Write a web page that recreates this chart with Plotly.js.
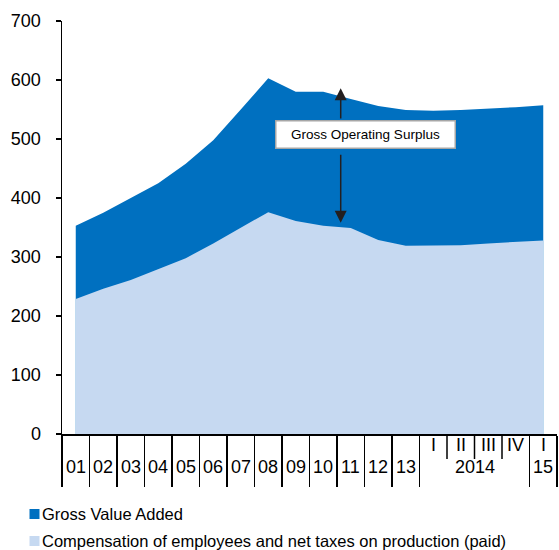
<!DOCTYPE html>
<html>
<head>
<meta charset="utf-8">
<script src="https://cdn.plot.ly/plotly-3.0.1.min.js"></script>
<style>html,body{margin:0;padding:0;background:#fff;}#chart{width:559px;height:550px;}</style>
</head>
<body>
<div id="chart"></div>
<script>
// ---- data ----
const categories = ['01','02','03','04','05','06','07','08','09','10','11','12','13',
  '2014 I','2014 II','2014 III','2014 IV','15 I'];
const grossValueAdded = [353,375,400,425,458,498,550,603,580,580,568,556,549,548,549,551,554,557];
const compensation = [229,246,261,279,298,323,350,376,361,353,349,329,319,319,320,323,325,328];
const seriesNames = ['Gross Value Added','Compensation of employees and net taxes on production (paid)'];
const annotationText = 'Gross Operating Surplus';
const yTicks = [0,100,200,300,400,500,600,700];

// ---- styles ----
const DARK = '#0070C0', LIGHT = '#C6D9F1', FONT = 'Liberation Sans, Arial, sans-serif';
const W = 559, H = 550, M = {l:62, r:2, t:21, b:116};
const plotW = W - M.l - M.r, plotH = H - M.t - M.b;
const pxX = p => (p - M.l) / plotW;
const pxY = p => (H - M.b - p) / plotH;
const xRange = [-0.5, categories.length - 0.5];
const dataToPaperX = v => (v - xRange[0]) / (xRange[1] - xRange[0]);

const idx = categories.map((_, i) => i);
const yearPart = categories.map(c => c.split(' ')[0]);
const qPart = categories.map(c => c.split(' ')[1] || '');

// groups of consecutive same year
const groups = [];
yearPart.forEach((y, i) => {
  if (groups.length && groups[groups.length-1].label === y) groups[groups.length-1].end = i;
  else groups.push({label: y, start: i, end: i});
});
const majorTicks = [-0.5].concat(groups.map(g => g.end + 0.5));
const minorTicks = [];
for (let i = 1; i < categories.length; i++) if (yearPart[i] === yearPart[i-1]) minorTicks.push(i - 0.5);

const annotations = [];
const shapes = [];
groups.forEach(g => annotations.push({
  x: (g.start + g.end) / 2, y: pxY(467), xref:'x', yref:'paper', text: g.label,
  showarrow:false, xanchor:'center', yanchor:'middle', font:{family:FONT, size:18, color:'#000'}
}));
qPart.forEach((q, i) => { if (q) annotations.push({
  x: i, y: pxY(445), xref:'x', yref:'paper', text: q,
  showarrow:false, xanchor:'center', yanchor:'middle', font:{family:FONT, size:18, color:'#000'}
}); });
// short separators between quarters
minorTicks.forEach(v => shapes.push({type:'line', xref:'paper', yref:'paper',
  x0:dataToPaperX(v), x1:dataToPaperX(v), y0:pxY(434), y1:pxY(459), line:{color:'#000', width:1.5}}));

// Gross operating surplus double arrow + label box
const arrowX = 9.635;
annotations.push({x: arrowX, y: 586, ax: arrowX, ay: 532, xref:'x', yref:'y', axref:'x', ayref:'y',
  text:'', showarrow:true, arrowhead:2, arrowsize:1.6, arrowwidth:1.5, arrowcolor:'#231F20'});
annotations.push({x: arrowX, y: 358, ax: arrowX, ay: 476, xref:'x', yref:'y', axref:'x', ayref:'y',
  text:'', showarrow:true, arrowhead:2, arrowsize:1.6, arrowwidth:1.5, arrowcolor:'#231F20'});
annotations.push({x: 10.55, y: 508, xref:'x', yref:'y', text: annotationText, showarrow:false,
  bgcolor:'#fff', bordercolor:'#A6A6A6', borderwidth:1.5, borderpad:1, width:176, height:24,
  font:{family:FONT, size:13.5, color:'#000'}, xanchor:'center', yanchor:'middle'});

// manual legend
const legendColors = [DARK, LIGHT];
const legendY = [514, 541];
seriesNames.forEach((n, k) => {
  shapes.push({type:'rect', xref:'paper', yref:'paper', x0:pxX(29.5), x1:pxX(39.5),
    y0:pxY(legendY[k]-5), y1:pxY(legendY[k]+5), fillcolor:legendColors[k], line:{width:0}});
  annotations.push({x:pxX(40), y:pxY(legendY[k]), xref:'paper', yref:'paper', text:n, showarrow:false,
    xanchor:'left', yanchor:'middle', font:{family:FONT, size:16.5, color:'#000'}});
});

const traces = [
  {x: idx, y: grossValueAdded, name: seriesNames[0], type:'scatter', mode:'lines', fill:'tozeroy',
   fillcolor: DARK, line:{width:0, color:DARK}, hoverinfo:'skip'},
  {x: idx, y: compensation, name: seriesNames[1], type:'scatter', mode:'lines', fill:'tozeroy',
   fillcolor: LIGHT, line:{width:0, color:LIGHT}, hoverinfo:'skip'}
];

const layout = {
  width: W, height: H, margin: M, showlegend:false,
  paper_bgcolor:'#fff', plot_bgcolor:'#fff',
  font:{family:FONT, color:'#000'},
  xaxis:{range:xRange, showgrid:false, zeroline:false, showline:true,
    linecolor:'#000', linewidth:1.5, tickmode:'array', tickvals:majorTicks, ticks:'outside',
    ticklen:51, tickwidth:1.5, tickcolor:'#000', showticklabels:false},
  yaxis:{range:[0,700], tickmode:'array', tickvals:yTicks, showgrid:false, zeroline:false, showline:true,
    linecolor:'#000', linewidth:1.5, ticks:'outside', ticklen:5, tickwidth:1.5, tickcolor:'#000',
    tickfont:{family:FONT, size:18, color:'#000'}, ticklabelstandoff:11},
  annotations: annotations, shapes: shapes
};
Plotly.newPlot('chart', traces, layout, {staticPlot:true, displayModeBar:false});
</script>
</body>
</html>
